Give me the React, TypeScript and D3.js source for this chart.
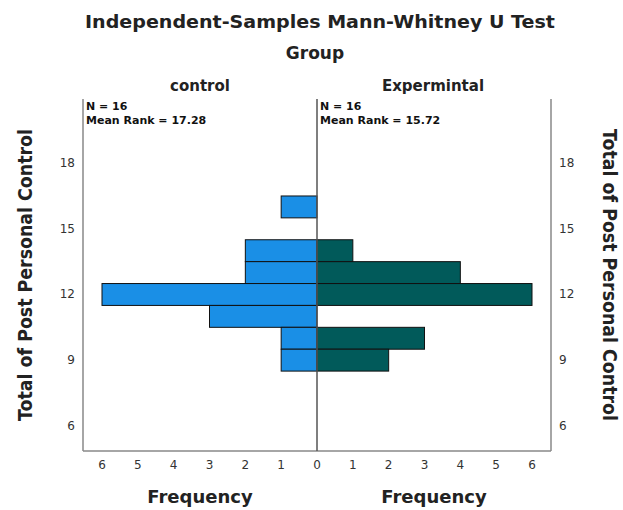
import React from "react";
import * as d3 from "d3";

const scoreBins = [16, 14, 13, 12, 11, 10, 9];
const controlFreq = [1, 2, 2, 6, 3, 1, 1];
const experimentalFreq = [0, 1, 4, 6, 0, 3, 2];
const yTicks = [6, 9, 12, 15, 18];
const xTicks = [0, 1, 2, 3, 4, 5, 6];
const groups = ["control", "Expermintal"];
const groupN = [16, 16];
const meanRanks = ["17.28", "15.72"];

const W = 623;
const H = 510;
const CX = 317;
const LEFT = 83;
const RIGHT = 551;
const TOP = 99;
const BOTTOM = 451;

export default function App() {
  const y = d3.scaleLinear().domain([4.85, 20.93]).range([BOTTOM, TOP]);
  const xL = d3.scaleLinear().domain([0, 6]).range([CX, 102]);
  const xR = d3.scaleLinear().domain([0, 6]).range([CX, 532]);
  const font = "'DejaVu Sans', 'Open Sans', sans-serif";
  const blue = "#1a8fe6";
  const teal = "#015a5a";
  const txt = "#222";

  return (
    <svg width={W} height={H} style={{ position: "absolute", left: 0, top: 0, background: "#fff" }} fontFamily={font}>
      <rect x={0} y={0} width={W} height={H} fill="#fff" />
      <text x={320} y={28} textAnchor="middle" fontSize={17} fontWeight="bold" fill={txt} textLength={470} lengthAdjust="spacingAndGlyphs">
        Independent-Samples Mann-Whitney U Test
      </text>
      <text x={315} y={59} textAnchor="middle" fontSize={17} fontWeight="bold" fill={txt}>
        Group
      </text>
      <text x={200} y={91} textAnchor="middle" fontSize={15} fontWeight="bold" fill={txt}>
        {groups[0]}
      </text>
      <text x={433} y={91} textAnchor="middle" fontSize={15} fontWeight="bold" fill={txt}>
        {groups[1]}
      </text>

      {/* bars */}
      {scoreBins.map((b, i) =>
        controlFreq[i] > 0 ? (
          <rect key={"c" + i} x={xL(controlFreq[i])} y={y(b + 0.5)} width={CX - xL(controlFreq[i])} height={y(b - 0.5) - y(b + 0.5)} fill={blue} stroke="#111" strokeWidth={1} />
        ) : null
      )}
      {scoreBins.map((b, i) =>
        experimentalFreq[i] > 0 ? (
          <rect key={"e" + i} x={CX} y={y(b + 0.5)} width={xR(experimentalFreq[i]) - CX} height={y(b - 0.5) - y(b + 0.5)} fill={teal} stroke="#111" strokeWidth={1} />
        ) : null
      )}

      {/* frame */}
      <line x1={LEFT} x2={LEFT} y1={TOP} y2={BOTTOM} stroke="#888" strokeWidth={1.5} />
      <line x1={RIGHT} x2={RIGHT} y1={TOP} y2={BOTTOM} stroke="#888" strokeWidth={1.5} />
      <line x1={LEFT} x2={RIGHT} y1={BOTTOM} y2={BOTTOM} stroke="#888" strokeWidth={1.5} />
      <line x1={CX} x2={CX} y1={TOP} y2={BOTTOM} stroke="#555" strokeWidth={1.5} />

      {/* N / mean rank */}
      {[0, 1].map((g) => (
        <g key={"nm" + g} fontSize={11} fontWeight="bold" fill="#111">
          <text x={(g === 0 ? LEFT : CX) + 3} y={110}>{`N = ${groupN[g]}`}</text>
          <text x={(g === 0 ? LEFT : CX) + 3} y={124}>{`Mean Rank = ${meanRanks[g]}`}</text>
        </g>
      ))}

      {/* y ticks */}
      {yTicks.map((t) => (
        <g key={"y" + t} fontSize={12} fill="#333">
          <text x={75} y={y(t) + 4} textAnchor="end">{t}</text>
          <text x={559} y={y(t) + 4} textAnchor="start">{t}</text>
        </g>
      ))}

      {/* x ticks */}
      {xTicks.map((t) => (
        <g key={"x" + t} fontSize={12} fill="#333">
          {t > 0 && <text x={xL(t)} y={469} textAnchor="middle">{t}</text>}
          <text x={xR(t)} y={469} textAnchor="middle">{t}</text>
        </g>
      ))}

      <text x={200} y={503} textAnchor="middle" fontSize={18} fontWeight="bold" fill={txt}>Frequency</text>
      <text x={434} y={503} textAnchor="middle" fontSize={18} fontWeight="bold" fill={txt}>Frequency</text>

      <text transform="translate(32,275) rotate(-90)" textAnchor="middle" fontSize={19} fontWeight="bold" fill={txt} textLength={292} lengthAdjust="spacingAndGlyphs">
        Total of Post Personal Control
      </text>
      <text transform="translate(603,275) rotate(90)" textAnchor="middle" fontSize={19} fontWeight="bold" fill={txt} textLength={292} lengthAdjust="spacingAndGlyphs">
        Total of Post Personal Control
      </text>
    </svg>
  );
}
